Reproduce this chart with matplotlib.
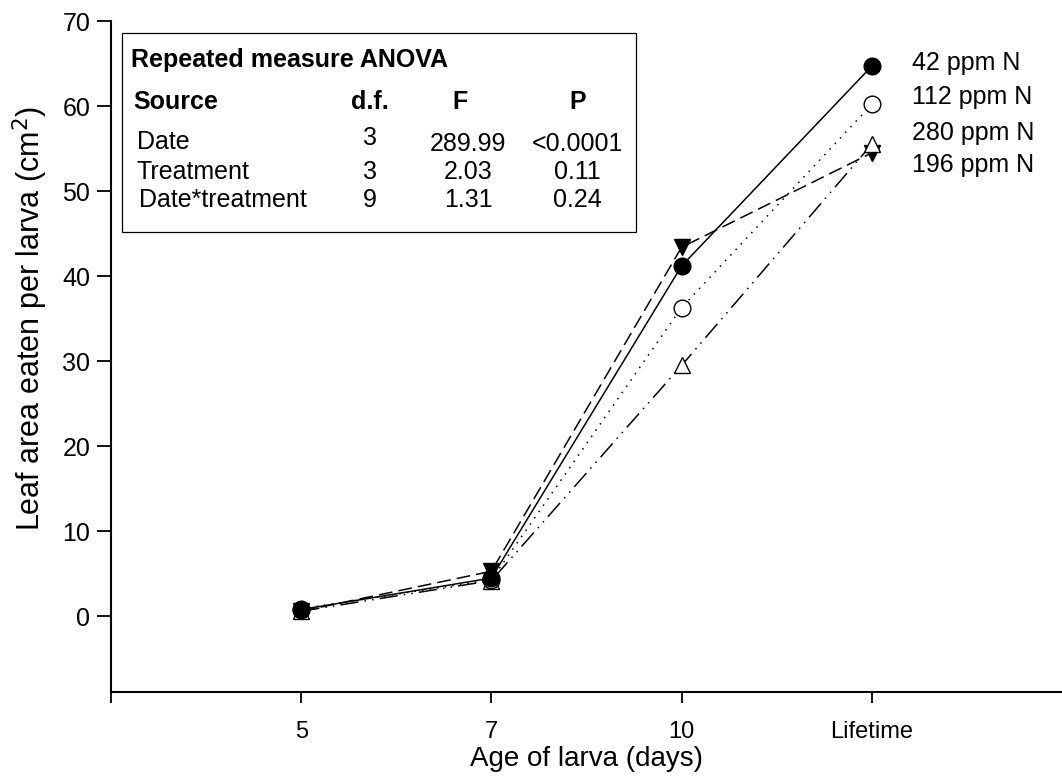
import matplotlib
matplotlib.use("Agg")
import matplotlib.pyplot as plt
from matplotlib.patches import Rectangle

plt.rcParams['font.family'] = ['Liberation Sans', 'DejaVu Sans']

# --- DATA ---
ages = ["5", "7", "10", "Lifetime"]
x_pos = [1, 2, 3, 4]
ppm42 = [0.8, 4.5, 41.2, 64.7]
ppm112 = [0.9, 4.3, 36.3, 60.2]
ppm280 = [0.6, 4.2, 29.5, 55.5]
ppm196 = [0.6, 5.3, 43.4, 54.5]
series_labels = ["42 ppm N", "112 ppm N", "280 ppm N", "196 ppm N"]
label_y = [65.1, 61.1, 56.8, 53.1]

anova_title = "Repeated measure ANOVA"
anova_head = ["Source", "d.f.", "F", "P"]
anova_source = ["Date", "Treatment", "Date*treatment"]
anova_df = ["3", "3", "9"]
anova_f = ["289.99", "2.03", "1.31"]
anova_p = ["<0.0001", "0.11", "0.24"]

# --- FIGURE ---
fig = plt.figure(figsize=(10.62, 7.8), dpi=100)
ax = fig.add_axes([0.1045, 0.1128, 0.8955, 0.8602])

ms = 12
lw = 1.1
ax.plot(x_pos, ppm196, color='black', lw=lw, ls=(0, (9, 4)),
        marker='v', ms=ms, mfc='black', mec='black', zorder=3)
ax.plot(x_pos, ppm280, color='black', lw=lw, ls=(0, (12, 4, 1, 4, 1, 4)),
        marker='^', ms=ms, mfc='white', mec='black', zorder=3)
ax.plot(x_pos, ppm112, color='black', lw=lw, ls=(0, (1, 4)),
        marker='o', ms=ms, mfc='white', mec='black', zorder=3)
ax.plot(x_pos, ppm42, color='black', lw=lw, ls='-',
        marker='o', ms=ms, mfc='black', mec='black', zorder=4)

for lab, yy in zip(series_labels, label_y):
    ax.text(4.21, yy, lab, fontsize=18, va='center', ha='left')

ax.set_xlim(0, 5)
ax.set_ylim(-8.9, 70)
ax.set_xticks([0, 1, 2, 3, 4])
ax.set_xticklabels([""] + ages, fontsize=17)
ax.set_yticks(range(0, 71, 10))
ax.tick_params(axis='y', labelsize=18, length=10, width=1.3, pad=5)
ax.tick_params(axis='x', length=8, width=1.3, pad=13)
ax.spines['top'].set_visible(False)
ax.spines['right'].set_visible(False)
ax.spines['left'].set_linewidth(1.5)
ax.spines['bottom'].set_linewidth(1.5)

ax.set_xlabel("Age of larva (days)", fontsize=20, labelpad=2)
ax.set_ylabel("Leaf area eaten per larva (cm$^2$)", fontsize=22)
ax.yaxis.set_label_coords(-0.064, 0.557)

# ANOVA box
fs = 18
ax.add_patch(Rectangle((0.0116, 0.6855), 0.5404, 0.2965, transform=ax.transAxes,
                       fill=False, lw=0.9, ec='black', zorder=5))
ax.text(0.021, 0.942, anova_title, transform=ax.transAxes, fontsize=fs,
        fontweight='bold', va='center', ha='left')
ax.text(0.0231, 0.879, anova_head[0], transform=ax.transAxes, fontsize=fs,
        fontweight='bold', va='center', ha='left')
for xx, h in zip([0.2723, 0.367, 0.491], anova_head[1:]):
    ax.text(xx, 0.879, h, transform=ax.transAxes, fontsize=fs,
            fontweight='bold', va='center', ha='center')

row_y = [0.820, 0.775, 0.733]
src_x = [0.0273, 0.0273, 0.0294]
for i in range(3):
    ax.text(src_x[i], row_y[i], anova_source[i], transform=ax.transAxes,
            fontsize=fs, va='center', ha='left')
    ax.text(0.2723, row_y[i] + (0.006 if i == 0 else 0), anova_df[i],
            transform=ax.transAxes, fontsize=fs, va='center', ha='center')
    ax.text(0.3754, row_y[i] - (0.003 if i == 0 else 0), anova_f[i],
            transform=ax.transAxes, fontsize=fs, va='center', ha='center')
    ax.text(0.490, row_y[i] - (0.003 if i == 0 else 0), anova_p[i],
            transform=ax.transAxes, fontsize=fs, va='center', ha='center')

fig.savefig("out.png", dpi=100)
